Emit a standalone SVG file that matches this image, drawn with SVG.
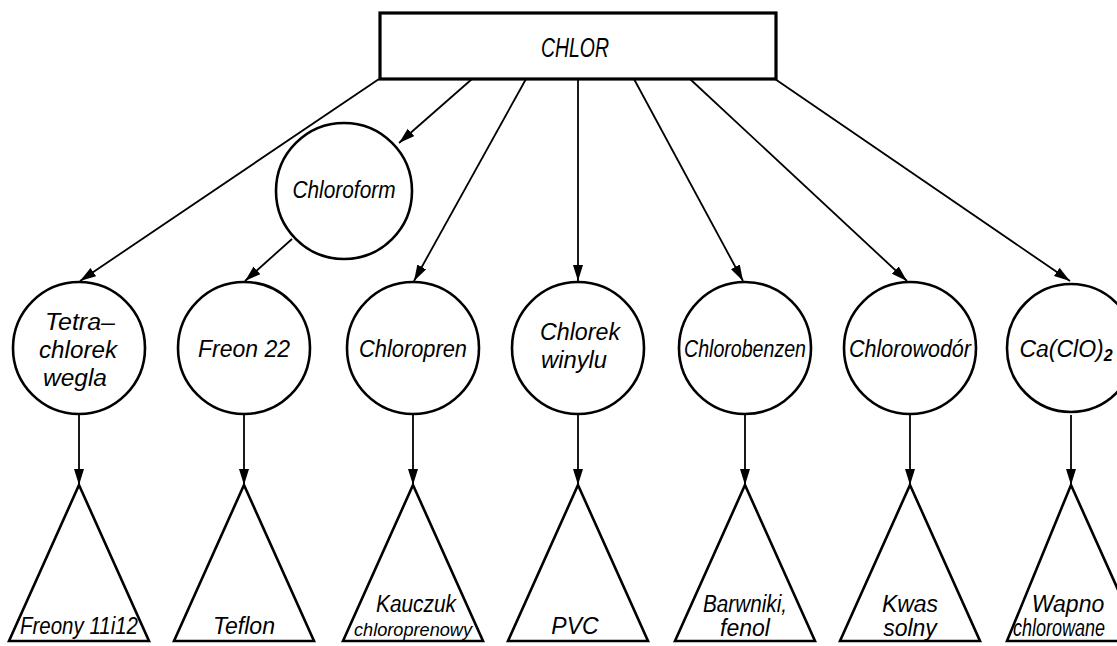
<svg xmlns="http://www.w3.org/2000/svg" width="1117" height="646" viewBox="0 0 1117 646">
<style>
.sh{fill:#fff;stroke:#000;stroke-width:2.6}
.box{fill:#fff;stroke:#000;stroke-width:3.2}
.cn{fill:none;stroke:#000;stroke-width:1.8}
text{font-family:"Liberation Sans","DejaVu Sans",sans-serif;font-style:italic;font-size:23px;fill:#000;text-anchor:middle}
.s{font-size:19px}
.big{font-size:27px}
</style>
<defs>
<marker id="ah" markerUnits="userSpaceOnUse" markerWidth="18" markerHeight="12" refX="16" refY="5" orient="auto">
<path d="M0,0 L16,5 L0,10 Z" fill="#000"/>
</marker>
</defs>
<g id="connectors">
<line class="cn" x1="379" y1="79" x2="80" y2="281" marker-end="url(#ah)"/>
<line class="cn" x1="472" y1="79" x2="399" y2="143" marker-end="url(#ah)"/>
<line class="cn" x1="292" y1="239" x2="245" y2="281" marker-end="url(#ah)"/>
<line class="cn" x1="526" y1="79" x2="414" y2="281" marker-end="url(#ah)"/>
<line class="cn" x1="578" y1="79" x2="578" y2="281" marker-end="url(#ah)"/>
<line class="cn" x1="634" y1="79" x2="743" y2="281" marker-end="url(#ah)"/>
<line class="cn" x1="690" y1="79" x2="907" y2="281" marker-end="url(#ah)"/>
<line class="cn" x1="775" y1="79" x2="1070" y2="281" marker-end="url(#ah)"/>
<line class="cn" x1="79" y1="415" x2="79" y2="485" marker-end="url(#ah)"/>
<line class="cn" x1="244" y1="415" x2="244" y2="485" marker-end="url(#ah)"/>
<line class="cn" x1="413" y1="415" x2="413" y2="485" marker-end="url(#ah)"/>
<line class="cn" x1="578" y1="415" x2="578" y2="485" marker-end="url(#ah)"/>
<line class="cn" x1="745" y1="415" x2="745" y2="485" marker-end="url(#ah)"/>
<line class="cn" x1="910" y1="415" x2="910" y2="485" marker-end="url(#ah)"/>
<line class="cn" x1="1071" y1="415" x2="1071" y2="485" marker-end="url(#ah)"/>
</g>
<g id="chlor"><rect class="box" x="380" y="13" width="396" height="66"/><text class="big" x="575" y="57" textLength="68" lengthAdjust="spacingAndGlyphs">CHLOR</text></g>
<g id="chloroform"><circle class="sh" cx="344" cy="191" r="68"/><text x="344" y="198" textLength="103" lengthAdjust="spacingAndGlyphs">Chloroform</text></g>
<g id="tetrachlorek"><circle class="sh" cx="79" cy="348" r="66"/><text x="80" y="330" textLength="70" lengthAdjust="spacingAndGlyphs">Tetra–</text><text x="78" y="358" textLength="78" lengthAdjust="spacingAndGlyphs">chlorek</text><text x="75" y="386" textLength="64" lengthAdjust="spacingAndGlyphs">wegla</text></g>
<g id="freon22"><circle class="sh" cx="244" cy="348" r="66"/><text x="244" y="357" textLength="92" lengthAdjust="spacingAndGlyphs">Freon 22</text></g>
<g id="chloropren"><circle class="sh" cx="413" cy="348" r="66"/><text x="413" y="357" textLength="108" lengthAdjust="spacingAndGlyphs">Chloropren</text></g>
<g id="chlorekwinylu"><circle class="sh" cx="578" cy="348" r="66"/><text x="580" y="340" textLength="80" lengthAdjust="spacingAndGlyphs">Chlorek</text><text x="574" y="368" textLength="66" lengthAdjust="spacingAndGlyphs">winylu</text></g>
<g id="chlorobenzen"><circle class="sh" cx="745" cy="348" r="66"/><text x="745" y="357" textLength="122" lengthAdjust="spacingAndGlyphs">Chlorobenzen</text></g>
<g id="chlorowodor"><circle class="sh" cx="910" cy="348" r="66"/><text x="910" y="357" textLength="122" lengthAdjust="spacingAndGlyphs">Chlorowodór</text></g>
<g id="caclo2"><circle class="sh" cx="1071" cy="348" r="64"/><text x="1066" y="357">Ca(ClO)<tspan font-size="16" font-weight="bold" dy="4">2</tspan></text></g>
<g id="freony"><path class="sh" d="M79,485 L149,641 L9,641 Z"/><text x="79" y="634" textLength="118" lengthAdjust="spacingAndGlyphs">Freony 11i12</text></g>
<g id="teflon"><path class="sh" d="M244,485 L314,641 L174,641 Z"/><text x="244" y="634" textLength="62" lengthAdjust="spacingAndGlyphs">Teflon</text></g>
<g id="kauczuk"><path class="sh" d="M413,485 L483,641 L343,641 Z"/><text x="416" y="612" textLength="80" lengthAdjust="spacingAndGlyphs">Kauczuk</text><text class="s" x="413" y="636" textLength="118" lengthAdjust="spacingAndGlyphs">chloroprenowy</text></g>
<g id="pvc"><path class="sh" d="M578,485 L648,641 L508,641 Z"/><text x="575" y="634">PVC</text></g>
<g id="barwniki"><path class="sh" d="M745,485 L815,641 L675,641 Z"/><text x="745" y="612" textLength="84" lengthAdjust="spacingAndGlyphs">Barwniki,</text><text x="745" y="636">fenol</text></g>
<g id="kwas"><path class="sh" d="M910,485 L980,641 L840,641 Z"/><text x="910" y="612">Kwas</text><text x="910" y="636">solny</text></g>
<g id="wapno"><path class="sh" d="M1071,485 L1141,641 L1007,641 Z"/><text x="1068" y="612">Wapno</text><text x="1059" y="636" textLength="92" lengthAdjust="spacingAndGlyphs">chlorowane</text></g>
</svg>
